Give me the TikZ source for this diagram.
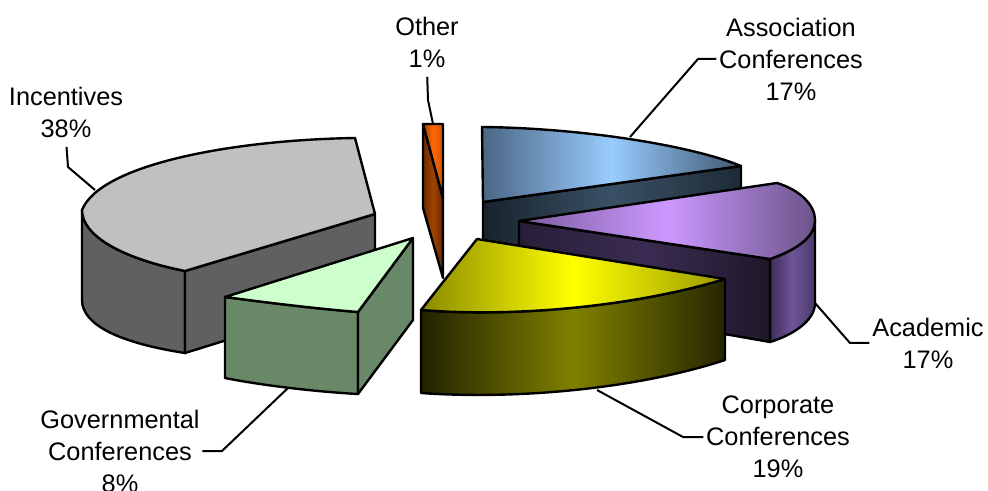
\documentclass[tikz,border=0pt]{standalone}
\usepackage{fontspec}
\setmainfont{Liberation Sans}
\definecolor{incTop}{HTML}{C0C0C0}
\definecolor{incSide}{HTML}{606060}
\definecolor{govTop}{HTML}{CCFFCC}
\definecolor{govSide}{HTML}{688868}
\definecolor{othDarkL}{HTML}{6E2800}
\definecolor{othDarkM}{HTML}{A04400}
\definecolor{othDarkR}{HTML}{682400}
\definecolor{othTopL}{HTML}{A03C00}
\definecolor{othTopM}{HTML}{FF6A00}
\definecolor{othTopR}{HTML}{D05000}
\definecolor{assocSideL}{HTML}{18222C}
\definecolor{assocSideM}{HTML}{3A5166}
\definecolor{assocSideR}{HTML}{1E2A36}
\definecolor{assocTopL}{HTML}{4A6684}
\definecolor{assocTopM}{HTML}{99CCFF}
\definecolor{assocTopR}{HTML}{3E566E}
\definecolor{acadSideL}{HTML}{3E2E58}
\definecolor{acadSideM}{HTML}{6E5598}
\definecolor{acadSideR}{HTML}{4B3A6A}
\definecolor{acadFaceL}{HTML}{281E38}
\definecolor{acadFaceM}{HTML}{3A2C52}
\definecolor{acadFaceR}{HTML}{1F1729}
\definecolor{acadTopL}{HTML}{7A5C9E}
\definecolor{acadTopM}{HTML}{CC99FF}
\definecolor{acadTopR}{HTML}{6B5489}
\definecolor{corpSideL}{HTML}{222200}
\definecolor{corpSideM}{HTML}{808000}
\definecolor{corpSideR}{HTML}{262600}
\definecolor{corpTopL}{HTML}{8A8A00}
\definecolor{corpTopM}{HTML}{FFFF00}
\definecolor{corpTopR}{HTML}{9A9A00}
\tikzset{slicefill/.style = {draw,line width=1.8pt,line join=round,fill=#1}}
\tikzset{sliceshade/.style n args={3}{draw,line width=1.8pt,line join=round,left color=#1,right color=#3,middle color=#2}}
\tikzset{leader/.style = {draw,line width=1.5pt}}
\tikzset{chartlabel/.style = {align=center,inner sep=2pt,font=\fontsize{19}{24}\selectfont}}

\begin{document}
\begin{tikzpicture}[x=0.75pt,y=-0.75pt]
\useasboundingbox (0,0) rectangle (988,491);
\path[slicefill=incSide] (82,210) -- (82,300) .. controls (82,325) and (120,343) .. (185,353) -- (185,271) .. controls (120,258) and (82,235) .. (82,210) -- cycle;
\path[slicefill=incSide] (185,271) -- (375,214) -- (375,294) -- (185,353) -- cycle;
\path[slicefill=incTop] (185,271) -- (375,214) -- (355,138) .. controls (230,140) and (100,165) .. (82,210) .. controls (82,235) and (120,258) .. (185,271) -- cycle;
\path[slicefill=govSide] (225,297) .. controls (270,303) and (320,309) .. (358,312) -- (358,394) .. controls (320,392) and (265,386) .. (225,378) -- cycle;
\path[slicefill=govSide] (358,312) -- (413,238) -- (413,320) -- (358,394) -- cycle;
\path[slicefill=govTop] (225,297) -- (413,238) -- (358,312) .. controls (320,309) and (270,303) .. (225,297) -- cycle;
\path[sliceshade={othDarkL}{othDarkM}{othDarkR}] (423,124) -- (443,198) -- (443,278) -- (423,208) -- cycle;
\path[sliceshade={othTopL}{othTopM}{othTopR}] (423,124) -- (443,124) -- (443,198) -- cycle;
\path[sliceshade={assocSideL}{assocSideM}{assocSideR}] (483,202) -- (741,166) -- (741,248) -- (483,284) -- cycle;
\path[sliceshade={assocTopL}{assocTopM}{assocTopR}] (482,127) .. controls (580,128) and (690,145) .. (741,166) -- (483,202) -- cycle;
\path[sliceshade={acadSideL}{acadSideM}{acadSideR}] (815,220) -- (815,303) .. controls (815,322) and (790,336) .. (770,342) -- (770,259) .. controls (790,252) and (815,240) .. (815,220) -- cycle;
\path[sliceshade={acadFaceL}{acadFaceM}{acadFaceR}] (519,221) -- (770,259) -- (770,342) -- (519,298) -- cycle;
\path[sliceshade={acadTopL}{acadTopM}{acadTopR}] (519,221) -- (777,183) .. controls (800,190) and (815,205) .. (815,220) .. controls (815,240) and (790,252) .. (770,259) -- cycle;
\path[sliceshade={corpSideL}{corpSideM}{corpSideR}] (421,310) .. controls (520,318) and (640,305) .. (725,279) -- (725,360) .. controls (640,388) and (520,400) .. (421,393) -- cycle;
\path[sliceshade={corpTopL}{corpTopM}{corpTopR}] (477,239) -- (725,279) .. controls (640,305) and (520,318) .. (421,310) -- cycle;

\node[chartlabel] (othLabel) at (427,42) {Other\\1\%};
\node[chartlabel] (assocLabel) at (791,59) {Association\\Conferences\\17\%};
\node[chartlabel] (incLabel) at (66,112) {Incentives\\38\%};
\node[chartlabel] (acadLabel) at (928,343) {Academic\\17\%};
\node[chartlabel] (corpLabel) at (778,437) {Corporate\\Conferences\\19\%};
\node[chartlabel] (govLabel) at (120,451) {Governmental\\Conferences\\8\%};
\coordinate (othKnee) at (428,100);
\coordinate (othTip) at (433,124);
\coordinate (assocKnee) at (698,59);
\coordinate (assocTip) at (630,137);
\coordinate (incKnee) at (68,167);
\coordinate (incTip) at (95,190);
\coordinate (acadKnee) at (850,343);
\coordinate (acadTip) at (815,303);
\coordinate (corpKnee) at (683,437);
\coordinate (corpTip) at (597,390);
\coordinate (govKnee) at (222,453);
\coordinate (govTip) at (288,388);
\draw[leader,shorten <=5pt] (othLabel.south) -- (othKnee) -- (othTip);
\draw[leader] (assocLabel.west) -- (assocLabel.west -| assocKnee) -- (assocTip);
\draw[leader,shorten <=5pt] (incLabel.south) -- (incKnee) -- (incTip);
\draw[leader] (acadLabel.west) -- (acadLabel.west -| acadKnee) -- (acadTip);
\draw[leader] (corpLabel.west) -- (corpLabel.west -| corpKnee) -- (corpTip);
\draw[leader] (govLabel.east) -- (govLabel.east -| govKnee) -- (govTip);
\end{tikzpicture}
\end{document}
